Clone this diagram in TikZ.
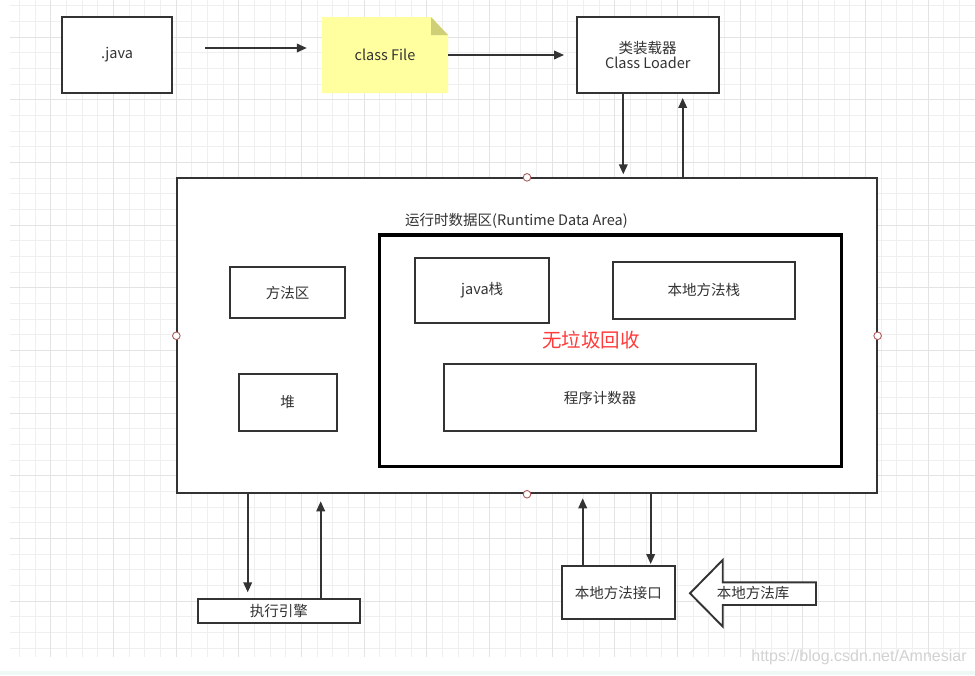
\documentclass[tikz,border=0pt]{standalone}
\usepackage{fontspec}
\setmainfont{Noto Sans CJK SC}
\newfontfamily\wmfont{Liberation Sans}
\usetikzlibrary{arrows.meta,calc}
\definecolor{txt}{HTML}{333333}
\definecolor{lin}{HTML}{333333}
\definecolor{gridminor}{HTML}{EFEFEF}
\definecolor{gridmajor}{HTML}{E3E3E3}
\definecolor{noteyel}{HTML}{FFFF9F}
\definecolor{notefold}{HTML}{CFCF78}
\definecolor{cpcol}{HTML}{B05A5A}
\definecolor{redtxt}{HTML}{FF3B3B}
\definecolor{band}{HTML}{EEF8F5}
\definecolor{wm}{HTML}{D2D2D2}
\begin{document}
\begin{tikzpicture}[x=1pt,y=-1pt,
  box/.style={draw=lin, line width=1.9pt, fill=white, text=txt, inner sep=0pt,
    font=\fontsize{14.5}{16}\selectfont},
  plain/.style={text=txt, inner sep=0pt, font=\fontsize{14.5}{16}\selectfont},
  arr/.style={draw=lin, line width=1.9pt, -{Triangle[length=10pt,width=8.5pt]}},
  cp/.style={draw=cpcol, fill=white, line width=0.9pt}]
\useasboundingbox (0,0) rectangle (975,675);
\fill[white] (0,0) rectangle (975,675);
% grid
\begin{scope}
\clip (10,0) rectangle (975,657);
\foreach \i in {0,...,61} \draw[gridminor, line width=0.8pt] ({19.33+15.67*\i},0) -- ({19.33+15.67*\i},657);
\foreach \j in {0,...,41} \draw[gridminor, line width=0.8pt] (10,{5.67+15.67*\j}) -- (975,{5.67+15.67*\j});
\foreach \i in {2,6,...,61} \draw[gridmajor, line width=0.8pt] ({19.33+15.67*\i},0) -- ({19.33+15.67*\i},657);
\foreach \j in {2,6,...,41} \draw[gridmajor, line width=0.8pt] (10,{5.67+15.67*\j}) -- (975,{5.67+15.67*\j});
\end{scope}
\fill[band] (0,671) rectangle (975,675);
% top row
\node[box, minimum width=110, minimum height=76] (java) at (117,55) {.java};
\fill[noteyel] (322,17) -- (431,17) -- (448,35) -- (448,93) -- (322,93) -- cycle;
\fill[notefold] (431,17) -- (431,35) -- (448,35) -- cycle;
\node[plain, minimum width=126, minimum height=76] (cf) at (385,55) {class File};
\node[box, minimum width=142, minimum height=76, align=center] (loader) at (647.7,55) {类装载器\\[-1pt]Class Loader};
\draw[arr, shorten <=32pt, shorten >=15pt] ([yshift=7pt]java.east) -- ([yshift=7pt]cf.west);
\draw[arr, shorten >=11.7pt] (cf.east) -- (loader.west);
% runtime area
\node[box, minimum width=699.4, minimum height=315] (rt) at (527,335.8) {};
\node[plain] (rtlabel) at (516.5,221) {运行时数据区(Runtime Data Area)};
\node[box, line width=3.4pt, draw=black, minimum width=462.4, minimum height=231.7] (inner) at (610.5,350.8) {};
\node[box, minimum width=115, minimum height=51.6] (method) at (287.5,292.5) {方法区};
\node[box, minimum width=98, minimum height=57] (heap) at (287.7,402.5) {堆};
\node[box, minimum width=134.3, minimum height=65] (jstack) at (482.2,290.2) {java栈};
\node[box, minimum width=182.3, minimum height=57.3] (nstack) at (703.8,290.3) {本地方法栈};
\node[box, minimum width=312, minimum height=67] (pc) at (600,397.5) {程序计数器};
\node[text=redtxt, inner sep=0pt, font=\fontsize{19.5}{21}\selectfont] (nogc) at (591,340) {无垃圾回收};
\foreach \a in {north,south,east,west} \draw[cp] (rt.\a) circle (3.8);
% loader arrows
\coordinate (ld) at ([xshift=-24.4pt]loader.south);
\coordinate (lu) at ([xshift=35pt]loader.south);
\draw[arr, shorten >=3pt] (ld) -- (ld |- rt.north);
\draw[arr, shorten >=4pt] (lu |- rt.north) -- (lu);
% bottom
\node[box, minimum width=162.3, minimum height=23.4] (eng) at (278.8,611) {执行引擎};
\node[box, minimum width=113.3, minimum height=53] (nif) at (618.3,592.5) {本地方法接口};
\coordinate (ed) at ([xshift=-31.1pt]eng.north);
\coordinate (eu) at ([xshift=41.9pt]eng.north);
\draw[arr, shorten >=6pt] (ed |- rt.south) -- (ed);
\draw[arr, shorten >=7pt] (eu) -- (eu |- rt.south);
\coordinate (nu) at ([xshift=-35.6pt]nif.north);
\coordinate (nd) at ([xshift=32.4pt]nif.north);
\draw[arr, shorten >=4pt] (nu) -- (nu |- rt.south);
\draw[arr, shorten >=1pt] (nd |- rt.south) -- (nd);
% block arrow
\draw[lin, line width=1.9pt, fill=white, line join=miter] (690,593.3) -- (722.7,560) -- (722.7,582.3) -- (816,582.3) -- (816,605) -- (722.7,605) -- (722.7,626.5) -- cycle;
\node[plain] (lib) at (753,593) {本地方法库};
% watermark
\node[text=wm, inner sep=0pt, font=\wmfont\fontsize{16}{18}\selectfont] (wmk) at (859,657) {https://blog.csdn.net/Amnesiar};
\end{tikzpicture}
\end{document}
